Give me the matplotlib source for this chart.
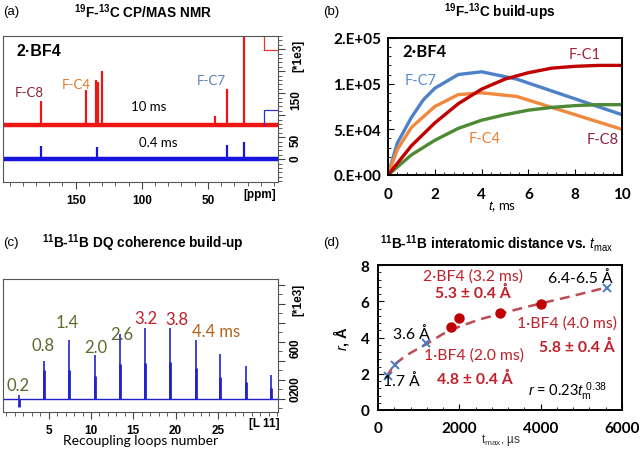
import numpy as np
import matplotlib
matplotlib.use("Agg")
import matplotlib.pyplot as plt
from matplotlib.ticker import FixedLocator, MultipleLocator

plt.rcParams['font.family'] = ['Liberation Sans', 'DejaVu Sans']
plt.rcParams['mathtext.fontset'] = 'custom'
plt.rcParams['mathtext.rm'] = 'Liberation Sans'
plt.rcParams['mathtext.it'] = 'Liberation Sans:italic'
plt.rcParams['mathtext.bf'] = 'Liberation Sans:bold'
CAL = ['Lato', 'DejaVu Sans']

# (a) 19F-13C CP/MAS spectra: peak positions (ppm) and heights (*1e3)
ppm_10ms = [176.4, 142.5, 134.5, 133.2, 130.3, 45.0, 35.8, 22.6]
int_10ms = [132, 157, 180, 175, 200, 98, 159, 300]
base_10ms = 77
ppm_04ms = [176.4, 134.0, 35.8, 22.6]
int_04ms = [30, 27, 32, 39]
base_04ms = 0

# (b) build-up curves
t_c7 = [0, 0.4, 1, 1.5, 2, 3, 4, 5.5, 10]
y_c7 = [0, 3.5e4, 6.3e4, 8.2e4, 9.5e4, 1.1e5, 1.13e5, 1.05e5, 6.6e4]
t_c4 = [0, 0.4, 1, 2, 3, 4, 5.5, 10]
y_c4 = [0, 2.8e4, 5.2e4, 7.5e4, 8.8e4, 9.0e4, 8.6e4, 5.0e4]
t_c1 = [0, 1, 2, 3, 4, 5, 6, 7, 8, 9, 10]
y_c1 = [0, 3.2e4, 5.7e4, 7.8e4, 9.4e4, 1.05e5, 1.12e5, 1.17e5, 1.19e5, 1.2e5, 1.2e5]
t_c8 = [0, 1, 2, 3, 4, 5, 6, 7, 8, 9, 10]
y_c8 = [0, 2.2e4, 3.8e4, 5.1e4, 6.0e4, 6.6e4, 7.1e4, 7.4e4, 7.6e4, 7.7e4, 7.7e4]

# (c) DQ build-up: peak positions (loop number), heights, shoulder heights (*1e3)
loop_pos = [1.46, 4.41, 7.4, 10.43, 13.39, 16.38, 19.37, 22.36, 25.3, 28.35, 31.3]
dq_top = [42, 400, 620, 463, 684, 747, 747, 620, 473, 347, 253]
dq_shoulder = [-84, 308, 308, 240, 368, 379, 390, 326, 232, 179, 116]

# (d) distance vs t_max
t_model = [245, 410, 1190, 5620]
r_model = [1.86, 2.5, 3.67, 6.75]
t_exp = [1800, 2000, 3000, 4000]
r_exp = [4.58, 5.08, 5.36, 5.86]
t_fit = [200, 400, 600, 800, 1200, 1600, 2000, 2500, 3000, 3500, 4000, 4800, 5600]
r_fit = [1.8, 2.5, 2.85, 3.15, 3.65, 4.2, 4.6, 5.0, 5.3, 5.6, 5.88, 6.3, 6.75]

fig = plt.figure(figsize=(6.4, 4.56), dpi=100)
W, H = 640, 456
TITLE = 9.8


def axes_px(x0, y0, x1, y1):
    return fig.add_axes([x0 / W, 1 - y1 / H, (x1 - x0) / W, (y1 - y0) / H])


def fig_text(x, y, s, **kw):
    fig.text(x / W, 1 - y / H, s, **kw)


# ---------- (a) ----------
ax = axes_px(3, 37, 278, 183)
ax.axhline(base_10ms, color='#ee1515', lw=3.2)
ax.vlines(ppm_10ms, base_10ms, int_10ms, color='#ee1515', lw=1.6)
ax.axhline(base_04ms, color='#1515dd', lw=3.2)
ax.vlines(ppm_04ms, base_04ms, int_04ms, color='#1515dd', lw=1.6)
ax.set_xlim(205, -3)
ax.set_ylim(-52, 280)
ax.yaxis.tick_right()
ax.yaxis.set_major_locator(FixedLocator([0, 50, 100, 150, 200, 250]))
ax.set_yticklabels(['0', '50', '', '150', '', ''])
ax.yaxis.set_minor_locator(MultipleLocator(10))
ax.xaxis.set_major_locator(FixedLocator([150, 100, 50]))
ax.xaxis.set_minor_locator(MultipleLocator(10))
ax.tick_params(which='both', direction='out', color='#444444', labelsize=8.5)
ax.tick_params(which='major', length=5)
ax.tick_params(which='minor', length=3)
ax.tick_params(axis='y', labelrotation=90)
for lab in ax.get_xticklabels() + ax.get_yticklabels():
    lab.set_fontweight('bold')
for sp in ax.spines.values():
    sp.set_color('#555555')
    sp.set_linewidth(0.8)
ax.text(11, -0.04, '[ppm]', transform=ax.get_xaxis_transform(), ha='center', va='top',
        fontsize=8.5, fontweight='bold')
ax.text(1.075, 0.87, '[*1e3]', transform=ax.transAxes, rotation=90, ha='center', va='center',
        fontsize=8.5, fontweight='bold')
ax.plot([0.949, 0.949, 1.0], [1.0, 0.904, 0.904], transform=ax.transAxes, color='#ee3333', lw=0.9)
ax.plot([0.949, 0.949, 1.0], [0.39, 0.493, 0.493], transform=ax.transAxes, color='#3333cc', lw=0.9)
ax.text(0.05, 0.9, '2·BF4', transform=ax.transAxes, fontsize=11.5, fontweight='bold', va='center')
ax.text(0.095, 0.616, 'F-C8', transform=ax.transAxes, ha='center', va='center', fontsize=9.5,
        color='#8b2332', family=CAL)
ax.text(0.265, 0.671, 'F-C4', transform=ax.transAxes, ha='center', va='center', fontsize=9.5,
        color='#e07b28', family=CAL)
ax.text(0.756, 0.699, 'F-C7', transform=ax.transAxes, ha='center', va='center', fontsize=9.5,
        color='#5b7fc0', family=CAL)
ax.text(0.531, 0.521, '10 ms', transform=ax.transAxes, ha='center', va='center', fontsize=9.5,
        family=CAL)
ax.text(0.564, 0.274, '0.4 ms', transform=ax.transAxes, ha='center', va='center', fontsize=9.5,
        family=CAL)
fig_text(3, 12, '(a)', fontsize=9.5, va='center')
fig_text(143, 12, r'$^{\mathbf{19}}$F-$^{\mathbf{13}}$C CP/MAS NMR', fontsize=TITLE,
         fontweight='bold', ha='center', va='center')

# ---------- (b) ----------
ax = axes_px(388, 39, 622, 176)
ax.plot(t_c7, y_c7, color='#4f81c9', lw=2.4)
ax.plot(t_c4, y_c4, color='#f0883e', lw=2.4)
ax.plot(t_c8, y_c8, color='#4e8a34', lw=2.4)
ax.plot(t_c1, y_c1, color='#c00000', lw=2.4)
ax.set_xlim(0, 10)
ax.set_ylim(0, 1.5e5)
ax.xaxis.set_major_locator(MultipleLocator(2))
ax.xaxis.set_minor_locator(MultipleLocator(0.4))
ax.yaxis.set_major_locator(FixedLocator([0, 5e4, 1e5, 1.5e5]))
ax.set_yticklabels(['0.E+00', '5.E+04', '1.E+05', '2.E+05'])
ax.yaxis.set_minor_locator(MultipleLocator(1e4))
ax.tick_params(which='both', direction='in', color='black', labelsize=11, pad=5)
ax.tick_params(axis='x', pad=9)
ax.tick_params(which='major', length=4)
ax.tick_params(which='minor', length=2.5)
for lab in ax.get_xticklabels() + ax.get_yticklabels():
    lab.set_fontweight('bold')
    lab.set_family(CAL)
for sp in ax.spines.values():
    sp.set_linewidth(1.4)
ax.text(0.62, 1.36e5, '2·BF4', fontsize=12, fontweight='bold', va='center', family=CAL)
ax.text(8.42, 1.32e5, 'F-C1', ha='center', va='center', fontsize=10.5, color='#a5203a', family=CAL)
ax.text(1.38, 1.04e5, 'F-C7', ha='center', va='center', fontsize=10.5, color='#5b8bd0', family=CAL)
ax.text(4.15, 4.0e4, 'F-C4', ha='center', va='center', fontsize=10.5, color='#ed7d31', family=CAL)
ax.text(9.17, 3.9e4, 'F-C8', ha='center', va='center', fontsize=10.5, color='#8b2340', family=CAL)
fig_text(502, 207, r'$\mathit{t}$, ms', fontsize=9.5, ha='center', va='center', family=CAL)
fig_text(323, 12, '(b)', fontsize=9.5, va='center')
fig_text(500, 12, r'$^{\mathbf{19}}$F-$^{\mathbf{13}}$C build-ups', fontsize=TITLE,
         fontweight='bold', ha='center', va='center')

# ---------- (c) ----------
ax = axes_px(3, 280, 278, 413)
ax.axhline(0, color='#2222cc', lw=1.0)
ax.vlines(loop_pos, 0, dq_top, color='#2222cc', lw=1.2)
ax.vlines(loop_pos, 0, dq_shoulder, color='#2222cc', lw=2.0)
ax.set_xlim(-0.4, 32.1)
ax.set_ylim(-137, 1260)
ax.yaxis.tick_right()
ax.yaxis.set_major_locator(FixedLocator([0, 200, 400, 600, 800, 1000, 1200]))
ax.set_yticklabels(['0', '200', '', '600', '', '', ''])
ax.yaxis.set_minor_locator(MultipleLocator(100))
ax.xaxis.set_major_locator(FixedLocator([5, 10, 15, 20, 25]))
ax.xaxis.set_minor_locator(MultipleLocator(1))
ax.tick_params(which='both', direction='out', color='#444444', labelsize=8.5)
ax.tick_params(which='major', length=5)
ax.tick_params(which='minor', length=3)
ax.tick_params(axis='y', labelrotation=90)
for lab in ax.get_xticklabels() + ax.get_yticklabels():
    lab.set_fontweight('bold')
for sp in ax.spines.values():
    sp.set_color('#555555')
    sp.set_linewidth(0.8)
ax.text(30.5, -0.04, '[L 11]', transform=ax.get_xaxis_transform(), ha='center', va='top',
        fontsize=8.5, fontweight='bold')
ax.text(1.075, 0.85, '[*1e3]', transform=ax.transAxes, rotation=90, ha='center', va='center',
        fontsize=8.5, fontweight='bold')
olive = '#5c6b2c'
for x, y, s, c in [(1.34, 147, '0.2', olive), (4.3, 568, '0.8', olive), (7.24, 810, '1.4', olive),
                   (10.55, 547, '2.0', olive), (13.6, 684, '2.6', olive),
                   (16.45, 853, '3.2', '#c0202a'), (20.2, 842, '3.8', '#c0202a'),
                   (24.8, 716, '4.4 ms', '#b0641e')]:
    ax.text(x, y, s, ha='center', va='center', fontsize=12, color=c, family=CAL)
ax.set_xlabel('Recoupling loops number', fontsize=10, family=CAL, labelpad=-1)
fig_text(3, 243, '(c)', fontsize=9.5, va='center')
fig_text(143, 243, r'$^{\mathbf{11}}$B-$^{\mathbf{11}}$B DQ coherence build-up', fontsize=TITLE,
         fontweight='bold', ha='center', va='center')

# ---------- (d) ----------
ax = axes_px(378, 266, 622, 411)
ax.plot(t_fit, r_fit, color='#be4b50', lw=1.8, dashes=(4, 2.5))
ax.plot(t_exp, r_exp, 'o', color='#c00000', ms=6.5)
ax.plot(t_model, r_model, 'x', color='#4a78c4', ms=6, mew=1.4)
ax.set_xlim(0, 6000)
ax.set_ylim(0, 8)
ax.xaxis.set_major_locator(MultipleLocator(2000))
ax.xaxis.set_minor_locator(MultipleLocator(400))
ax.yaxis.set_major_locator(MultipleLocator(2))
ax.yaxis.set_minor_locator(MultipleLocator(0.4))
ax.tick_params(which='both', direction='in', color='black', labelsize=11, pad=6)
ax.tick_params(axis='x', pad=8)
ax.tick_params(which='major', length=4)
ax.tick_params(which='minor', length=2.5)
for lab in ax.get_xticklabels() + ax.get_yticklabels():
    lab.set_fontweight('bold')
    lab.set_family(CAL)
for sp in ax.spines.values():
    sp.set_linewidth(1.4)
red = '#c0202a'
FS = 11.3
ax.text(2330, 7.44, '2·BF4 (3.2 ms)', ha='center', va='center', fontsize=FS, color=red, family=CAL)
ax.text(2330, 6.47, '5.3 ± 0.4 Å', ha='center', va='center', fontsize=FS, color=red,
        fontweight='bold', family=CAL)
ax.text(4980, 7.3, '6.4-6.5 Å', ha='center', va='center', fontsize=FS, family=CAL)
ax.text(815, 4.24, '3.6 Å', ha='center', va='center', fontsize=FS, family=CAL)
ax.text(4650, 4.84, '1·BF4 (4.0 ms)', ha='center', va='center', fontsize=FS, color=red, family=CAL)
ax.text(4900, 3.53, '5.8 ± 0.4 Å', ha='center', va='center', fontsize=FS, color=red,
        fontweight='bold', family=CAL)
ax.text(2370, 3.07, '1·BF4 (2.0 ms)', ha='center', va='center', fontsize=FS, color=red, family=CAL)
ax.text(2370, 1.73, '4.8 ± 0.4 Å', ha='center', va='center', fontsize=FS, color=red,
        fontweight='bold', family=CAL)
ax.text(570, 1.6, '1.7 Å', ha='center', va='center', fontsize=FS, family=CAL)
ax.text(4650, 1.04, r'$\mathit{r}$ = 0.23$\mathit{t}_{\mathrm{m}}^{\ 0.38}$', ha='center',
        va='center', fontsize=10.5, family=CAL)
fig_text(501, 440, r't$_{\mathrm{max}}$, µs', fontsize=8.5, ha='center', va='center', color='#333333')
fig_text(341, 338, r'$\mathit{r}$, Å', fontsize=10.5, fontweight='bold', rotation=90,
         ha='center', va='center')
fig_text(323, 243, '(d)', fontsize=9.5, va='center')
fig_text(497, 243, r'$^{\mathbf{11}}$B-$^{\mathbf{11}}$B interatomic distance vs. $\mathit{t}_{\mathrm{max}}$',
         fontsize=TITLE, fontweight='bold', ha='center', va='center')

fig.savefig('out.png', dpi=100)
